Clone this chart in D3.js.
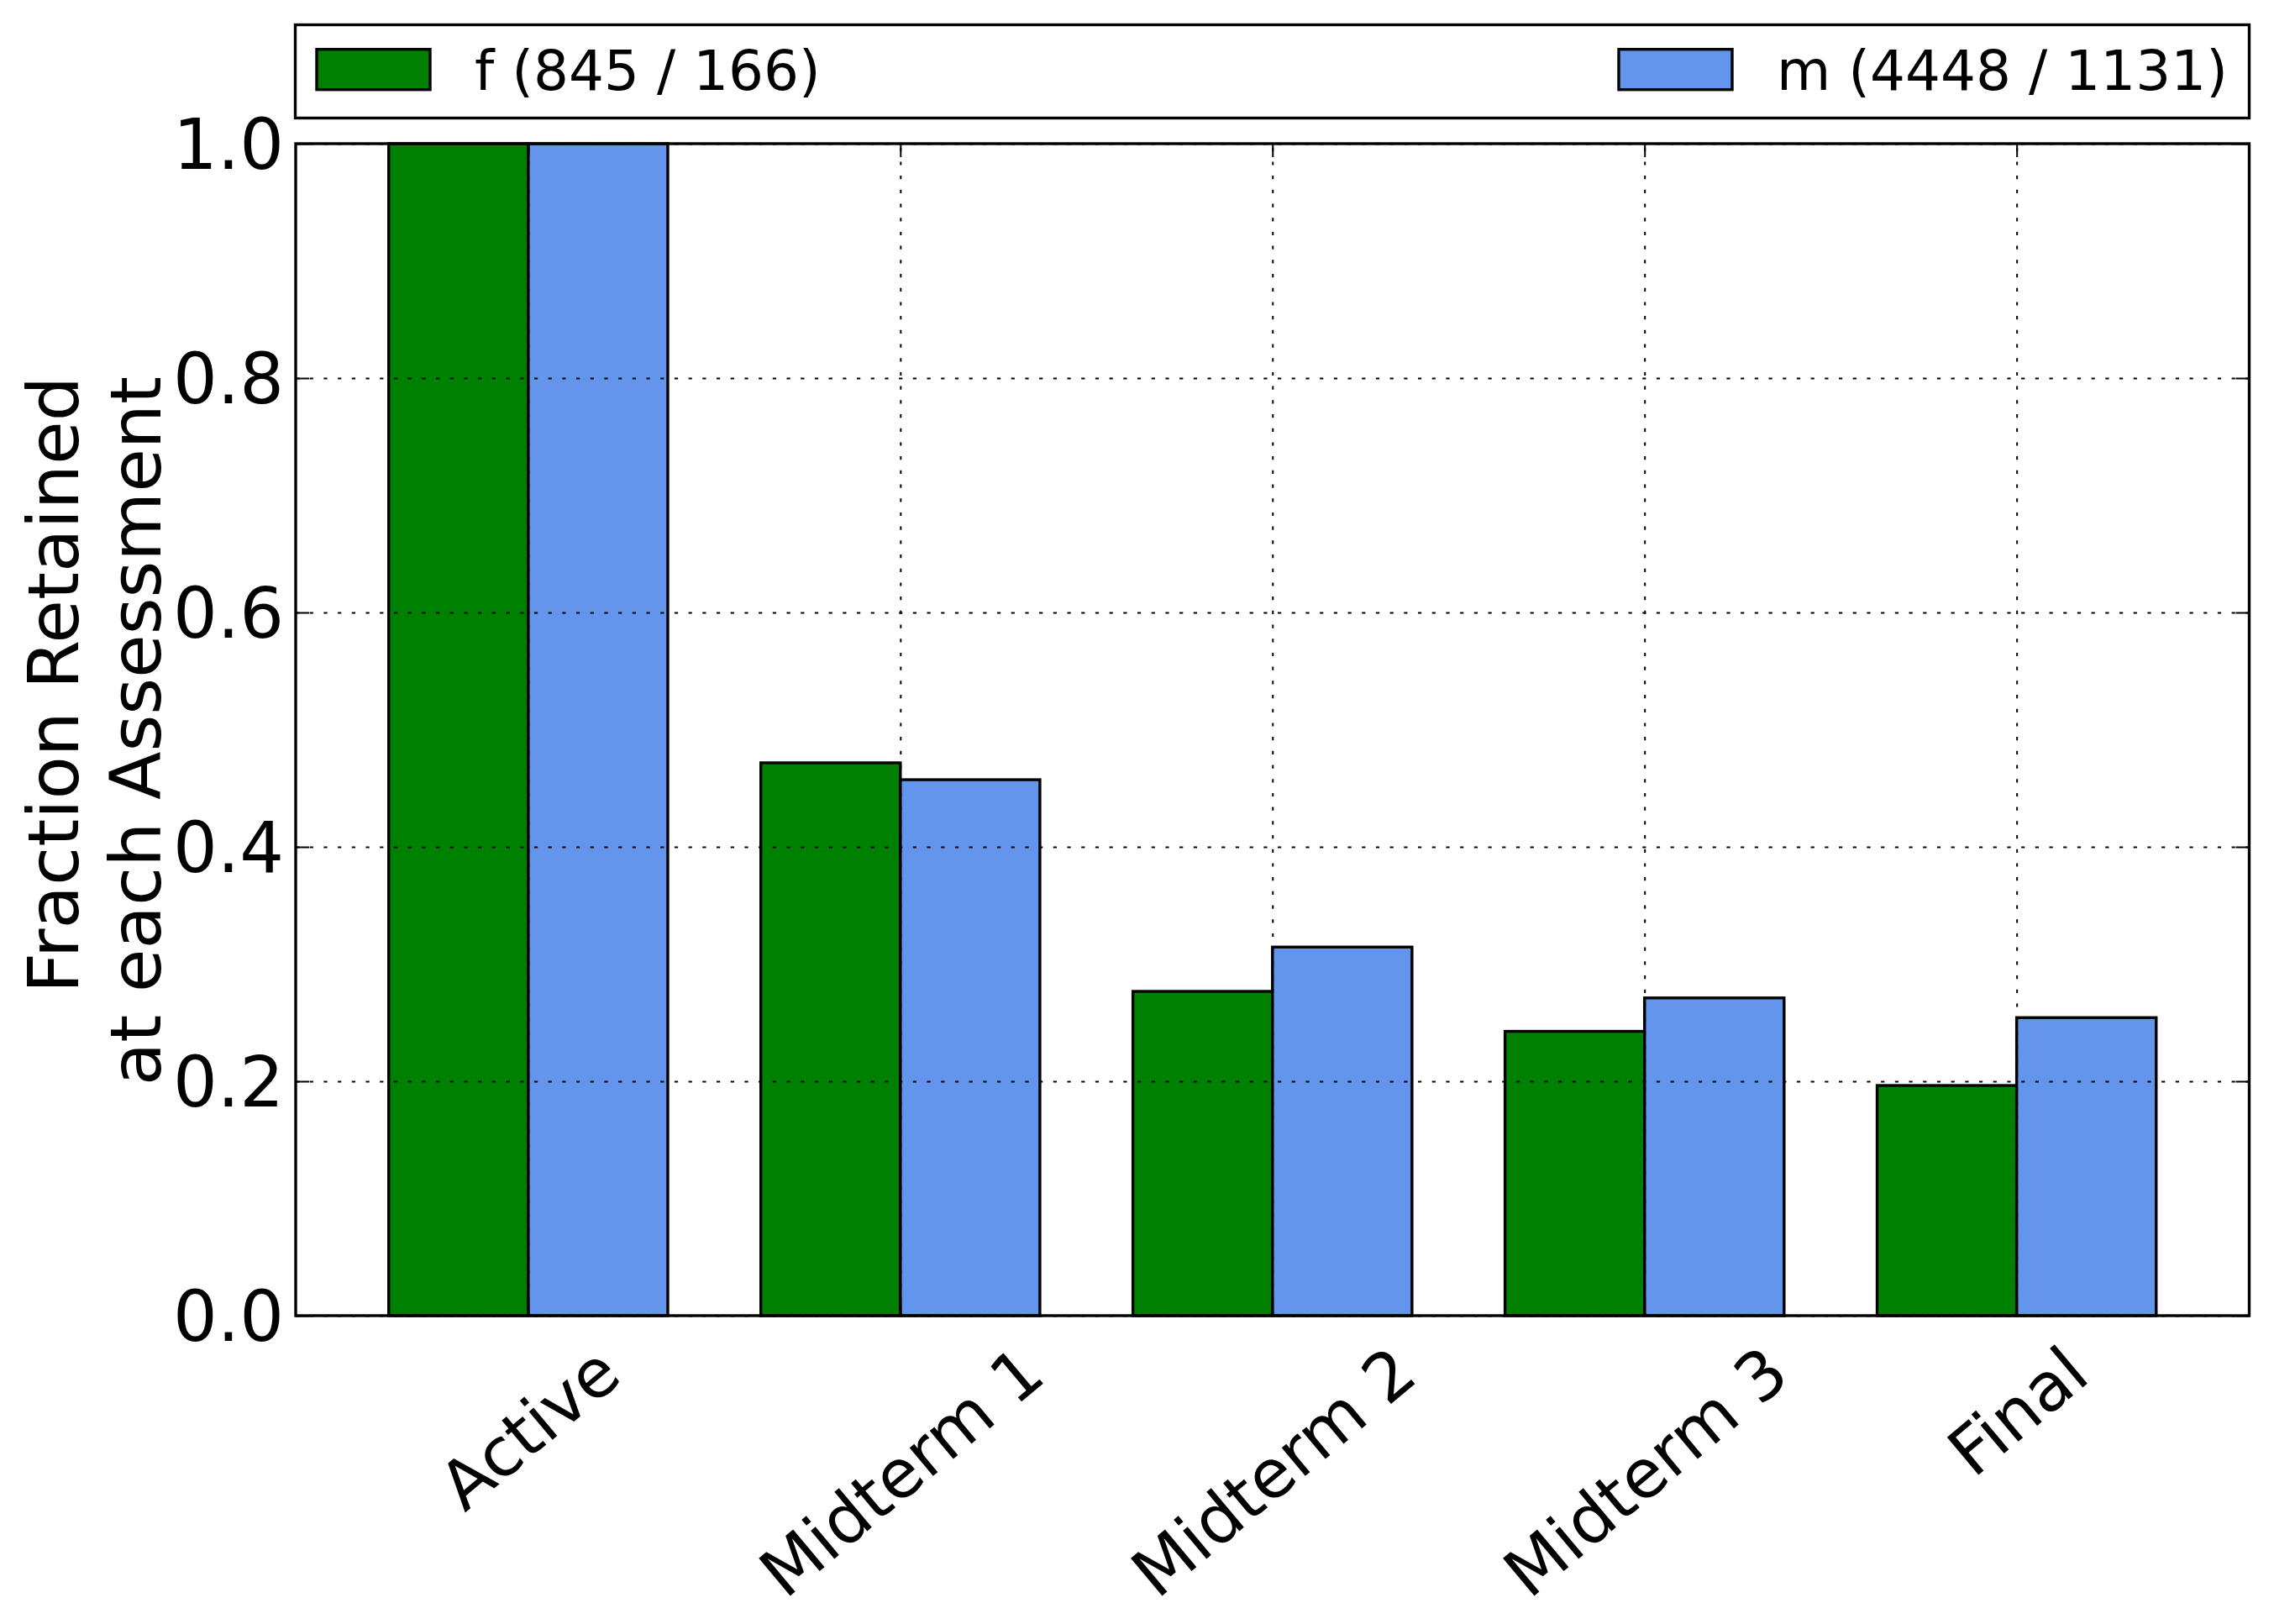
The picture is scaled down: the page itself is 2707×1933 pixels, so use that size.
<!DOCTYPE html>
<html><head><meta charset="utf-8">
<script src="https://cdn.jsdelivr.net/npm/d3@7"></script>
<style>
body{margin:0;background:#fff}
svg{display:block}
text{font-family:"DejaVu Sans",sans-serif;fill:#000}
</style>
</head><body><div id="chart"></div>
<script>
// ---- data ----
const categories = ["Active", "Midterm 1", "Midterm 2", "Midterm 3", "Final"];
const seriesNames = ["f", "m"];
const seriesTotals = [845, 4448];
const seriesFinalCounts = [166, 1131];
const fValues = [1.0, 0.4717, 0.2767, 0.2426, 0.1964];
const mValues = [1.0, 0.4573, 0.3145, 0.2711, 0.2543];
const yTicks = [0.0, 0.2, 0.4, 0.6, 0.8, 1.0];
const yLabelLines = ["Fraction Retained", "at each Assessment"];
const seriesColors = ["#008000", "#6495ED"];

// ---- layout ----
const W = 2707, H = 1933;
const P = {left: 352, right: 2677.5, top: 171, bottom: 1566};
const barW = 0.375;
const series = [fValues, mValues];

const svg = d3.select("#chart").append("svg").attr("width", W).attr("height", H);
svg.append("rect").attr("width", W).attr("height", H).attr("fill", "#fff");

const x = d3.scaleLinear().domain([-0.625, categories.length - 1 + 0.625]).range([P.left, P.right]);
const y = d3.scaleLinear().domain([0, 1]).range([P.bottom, P.top]);

// bars
const rows = [];
series.forEach((vals, s) => vals.forEach((v, i) => rows.push({s, i, v})));
svg.append("g").selectAll("rect").data(rows).join("rect")
  .attr("x", d => x(d.i + (d.s - 1) * barW))
  .attr("width", d => x(d.i + d.s * barW) - x(d.i + (d.s - 1) * barW))
  .attr("y", d => y(d.v))
  .attr("height", d => y(0) - y(d.v))
  .attr("fill", d => seriesColors[d.s])
  .attr("stroke", "#000").attr("stroke-width", 3.4);

// grid (drawn above bars)
const gridY = svg.append("g").attr("transform", `translate(${P.left},0)`)
  .call(d3.axisRight(y).tickValues(yTicks).tickSize(P.right - P.left).tickFormat(""));
const gridX = svg.append("g").attr("transform", `translate(0,${P.bottom})`)
  .call(d3.axisTop(x).tickValues(d3.range(categories.length)).tickSize(P.bottom - P.top).tickFormat(""));
[gridY, gridX].forEach(g => {
  g.select(".domain").remove();
  g.selectAll("line").attr("stroke", "#000").attr("stroke-width", 2).attr("stroke-dasharray", "4.2,12.5");
});

// frame
svg.append("rect").attr("x", P.left).attr("y", P.top)
  .attr("width", P.right - P.left).attr("height", P.bottom - P.top)
  .attr("fill", "none").attr("stroke", "#000").attr("stroke-width", 3.4);

// ticks
const tickLen = 16;
const yAxisL = svg.append("g").attr("transform", `translate(${P.left},0)`)
  .call(d3.axisLeft(y).tickValues(yTicks).tickFormat(d3.format(".1f")).tickSizeInner(-tickLen).tickSizeOuter(0).tickPadding(14));
yAxisL.select(".domain").remove();
yAxisL.selectAll("line").attr("stroke", "#000").attr("stroke-width", 2);
yAxisL.selectAll("text").attr("font-size", 83).attr("dy", "0.36em").attr("font-family", "DejaVu Sans");

const yAxisR = svg.append("g").attr("transform", `translate(${P.right},0)`)
  .call(d3.axisRight(y).tickValues(yTicks).tickFormat("").tickSizeInner(-tickLen).tickSizeOuter(0));
yAxisR.select(".domain").remove();
yAxisR.selectAll("line").attr("stroke", "#000").attr("stroke-width", 2);

const xAxisT = svg.append("g").attr("transform", `translate(0,${P.top})`)
  .call(d3.axisTop(x).tickValues(d3.range(categories.length)).tickFormat("").tickSizeInner(-tickLen).tickSizeOuter(0));
xAxisT.select(".domain").remove();
xAxisT.selectAll("line").attr("stroke", "#000").attr("stroke-width", 2);

const xFont = 80, pad = 31, ang = 40 * Math.PI / 180;
const xAxisB = svg.append("g").attr("transform", `translate(0,${P.bottom})`)
  .call(d3.axisBottom(x).tickValues(d3.range(categories.length)).tickFormat(i => categories[i]).tickSizeInner(-tickLen).tickSizeOuter(0));
xAxisB.select(".domain").remove();
xAxisB.selectAll("line").attr("stroke", "#000").attr("stroke-width", 2);
xAxisB.selectAll("text")
  .attr("font-size", xFont).attr("font-family", "DejaVu Sans")
  .attr("text-anchor", "middle").attr("y", 0).attr("dy", "0.365em")
  .each(function() {
    const L = this.getComputedTextLength();
    const hb = L * Math.sin(ang) + 0.74 * xFont * Math.cos(ang);
    d3.select(this).attr("transform", `translate(0,${pad + hb / 2}) rotate(-40)`);
  });

// y label
const yl = svg.append("g").attr("font-size", 84);
[92.7, 190.7].forEach((bx, k) => {
  yl.append("text").attr("transform", `translate(${bx},448) rotate(-90)`)
    .attr("text-anchor", "end").text(yLabelLines[k]);
});

// legend
const leg = svg.append("g");
leg.append("rect").attr("x", 351.5).attr("y", 29.5).attr("width", 2677.5 - 351.5).attr("height", 111)
  .attr("fill", "#fff").attr("stroke", "#000").attr("stroke-width", 3.4);
const legX = [377, 1927];
seriesNames.forEach((n, s) => {
  leg.append("rect").attr("x", legX[s]).attr("y", 58.7).attr("width", 135).attr("height", 48)
    .attr("fill", seriesColors[s]).attr("stroke", "#000").attr("stroke-width", 3.4);
  leg.append("text").attr("x", legX[s] + 188).attr("y", 106.7).attr("font-size", 66)
    .text(`${n} (${seriesTotals[s]} / ${seriesFinalCounts[s]})`);
});
</script>
</body></html>
